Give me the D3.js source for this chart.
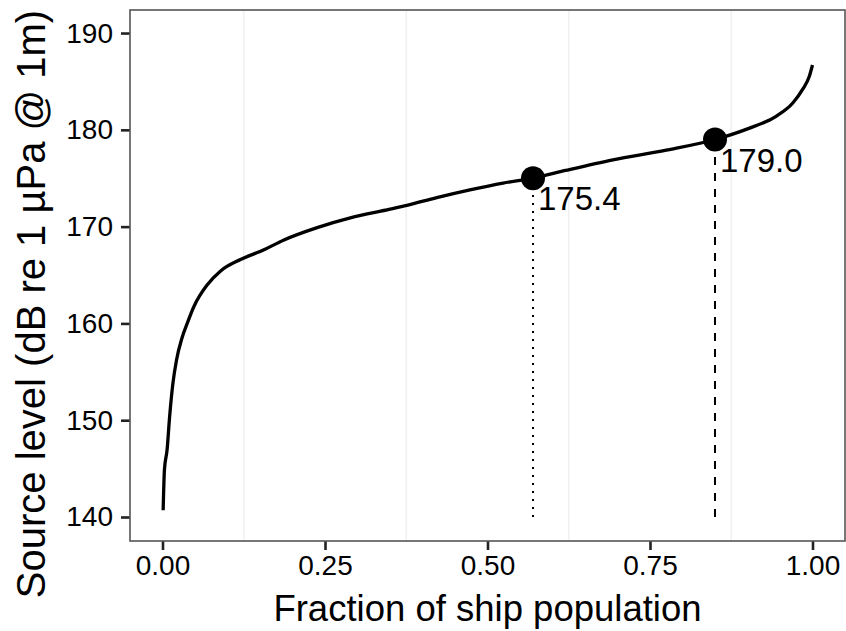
<!DOCTYPE html>
<html>
<head>
<meta charset="utf-8">
<script src="https://cdn.jsdelivr.net/npm/d3@7"></script>
<style>
  body { margin: 0; background: #fff; }
  svg text { font-family: "Liberation Sans", Arial, Helvetica, sans-serif; fill: #000; }
</style>
</head>
<body>
<div id="chart"></div>
<script>
// cumulative source level curve
var fraction = [0.001, 0.003, 0.007, 0.011, 0.016, 0.0215, 0.030, 0.038, 0.048, 0.069,
                0.089, 0.12, 0.156, 0.186, 0.238, 0.289, 0.350, 0.376, 0.422, 0.473,
                0.524, 0.57, 0.62, 0.693, 0.775, 0.85, 0.90, 0.944, 0.970, 0.985, 0.995, 1.0];
var level    = [140.7, 144.9, 146.9, 150.4, 153.8, 156.2, 158.5, 160.0, 161.7, 164.0,
                165.4, 166.6, 167.6, 168.6, 169.9, 170.9, 171.8, 172.2, 173.0, 173.8,
                174.5, 175.0, 175.8, 176.9, 177.9, 179.0, 180.1, 181.4, 182.8, 184.2, 185.5, 186.7];

// highlighted quantiles
var markFraction = [0.57, 0.85];
var markLevel    = [175.0, 179.0];
var markLabel    = ["175.4", "179.0"];
var markDash     = ["2,6", "8,8"];

var xTicks = [0, 0.25, 0.5, 0.75, 1];
var xMinor = [0.125, 0.375, 0.625, 0.875];
var yTicks = [140, 150, 160, 170, 180, 190];

var WIDTH = 846, HEIGHT = 631;
var PANEL_L = 130, PANEL_R = 845, PANEL_T = 10, PANEL_B = 541;

var svg = d3.select('#chart')
    .append('svg')
    .attr('width', WIDTH)
    .attr('height', HEIGHT);

var x = d3.scaleLinear().domain([-0.05, 1.05]).range([PANEL_L, PANEL_R]);
var y = d3.scaleLinear().domain([137.52, 192.38]).range([PANEL_B, PANEL_T]);

// faint minor grid
svg.selectAll('line.minor')
    .data(xMinor)
    .enter()
    .append('line')
    .attr('x1', function(d) { return x(d); })
    .attr('x2', function(d) { return x(d); })
    .attr('y1', PANEL_T)
    .attr('y2', PANEL_B)
    .attr('stroke', '#f0f0f0')
    .attr('stroke-width', 1.6);

// axes
var xAxis = svg.append('g')
    .attr('transform', 'translate(0,' + PANEL_B + ')')
    .call(d3.axisBottom(x).tickValues(xTicks).tickFormat(d3.format('.2f')).tickSize(9).tickPadding(5));

var yAxis = svg.append('g')
    .attr('transform', 'translate(' + PANEL_L + ',0)')
    .call(d3.axisLeft(y).tickValues(yTicks).tickFormat(d3.format('d')).tickSize(9).tickPadding(8));

[xAxis, yAxis].forEach(function(g) {
    g.attr('font-family', null).attr('font-size', null);
    g.select('.domain').remove();
    g.selectAll('line').attr('stroke', '#222').attr('stroke-width', 2.6);
    g.selectAll('text').attr('font-size', 28).attr('fill', '#000');
});
xAxis.selectAll('text').attr('dy', '0.72em');

// panel border
svg.append('rect')
    .attr('x', PANEL_L)
    .attr('y', PANEL_T)
    .attr('width', PANEL_R - PANEL_L)
    .attr('height', PANEL_B - PANEL_T)
    .attr('fill', 'none')
    .attr('stroke', '#555')
    .attr('stroke-width', 1.6);

// vertical drop lines
svg.selectAll('line.drop')
    .data(markFraction)
    .enter()
    .append('line')
    .attr('x1', function(d) { return x(d); })
    .attr('x2', function(d) { return x(d); })
    .attr('y1', y(140))
    .attr('y2', function(d, i) { return y(markLevel[i]); })
    .attr('stroke', '#000')
    .attr('stroke-width', 2)
    .attr('stroke-dasharray', function(d, i) { return markDash[i]; });

// curve
var line = d3.line()
    .x(function(d) { return x(d[0]); })
    .y(function(d) { return y(d[1]); })
    .curve(d3.curveMonotoneX);

svg.append('path')
    .datum(d3.zip(fraction, level))
    .attr('d', line)
    .attr('fill', 'none')
    .attr('stroke', '#000')
    .attr('stroke-width', 3.3)
    .attr('stroke-linejoin', 'round');

// points and labels
svg.selectAll('circle.mark')
    .data(markFraction)
    .enter()
    .append('circle')
    .attr('cx', function(d) { return x(d); })
    .attr('cy', function(d, i) { return y(markLevel[i]); })
    .attr('r', 12)
    .attr('fill', '#000');

svg.selectAll('text.mark')
    .data(markFraction)
    .enter()
    .append('text')
    .attr('x', function(d) { return x(d) + 5; })
    .attr('y', function(d, i) { return y(markLevel[i]) + 32; })
    .attr('font-size', 33)
    .text(function(d, i) { return markLabel[i]; });

// axis titles
svg.append('text')
    .attr('x', (PANEL_L + PANEL_R) / 2)
    .attr('y', 621)
    .attr('text-anchor', 'middle')
    .attr('font-size', 36.5)
    .text('Fraction of ship population');

svg.append('text')
    .attr('transform', 'translate(45,304) rotate(-90)')
    .attr('text-anchor', 'middle')
    .attr('font-size', 40)
    .text('Source level (dB re 1 \u00b5Pa @ 1m)');
</script>
</body>
</html>
